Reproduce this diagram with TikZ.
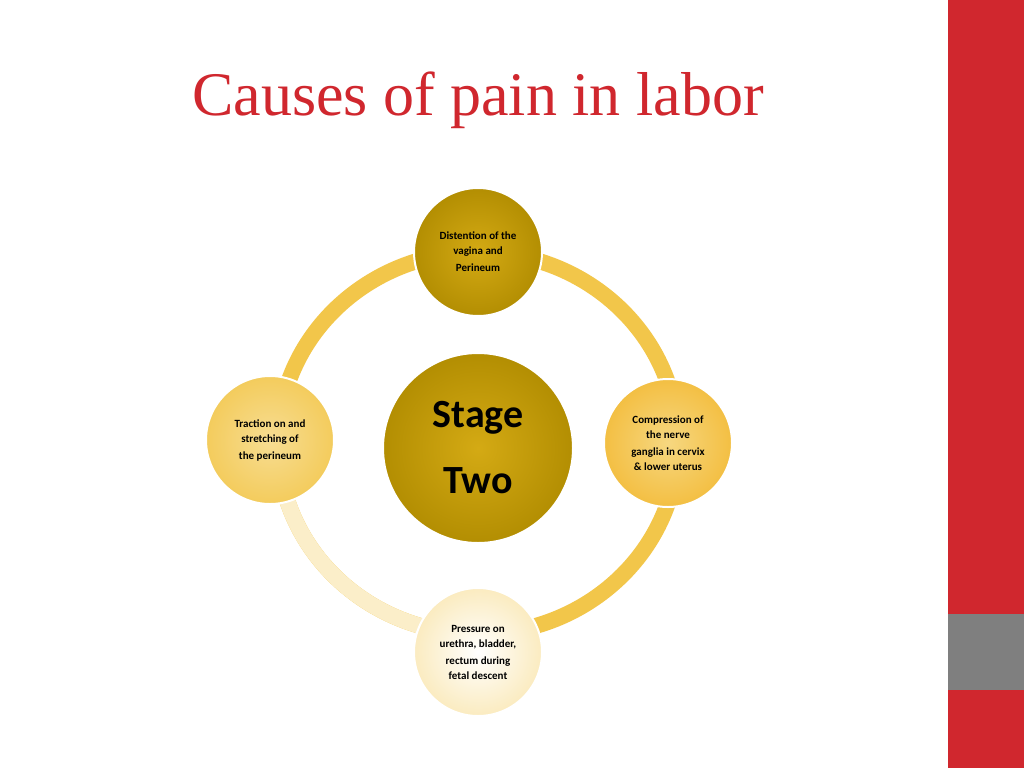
\documentclass[tikz,border=0pt]{standalone}
\usepackage{fontspec}
\setmainfont{Carlito}
\newfontfamily\titlefont{Liberation Serif}
\definecolor{redbar}{HTML}{D0272E}
\definecolor{greybar}{HTML}{7F7F7F}
\definecolor{ringc}{HTML}{F2C64A}
\definecolor{goldd}{HTML}{B38E02}
\definecolor{goldl}{HTML}{D4AA14}
\tikzset{
  small/.style={circle,minimum size=128pt,inner sep=0pt,draw=white,line width=2pt,align=center,font=\bfseries\fontsize{11}{15}\selectfont},
}
\begin{document}
\begin{tikzpicture}[x=1pt,y=-1pt]
\useasboundingbox (0,0) rectangle (1024,768);
\fill[white] (0,0) rectangle (1024,768);
\fill[redbar] (948,0) rectangle (1024,768);
\fill[greybar] (948,614) rectangle (1024,690);
\node[text=redbar,font=\titlefont\fontsize{62}{68}\selectfont] (title) at (478,100) {Causes of pain in labor};
\draw[line width=16pt,ringc] (478,443) ellipse [x radius=200,y radius=191];
\draw[line width=16pt,ringc!30!white] (278,443) arc[start angle=180,end angle=90,x radius=200,y radius=191];
\node[small,inner color=goldl,outer color=goldd] (top) at (478,252) {Distention of the\\vagina and\\[2pt]Perineum};
\node[small,inner color=ringc!70!white,outer color=ringc!90!orange] (right) at (668,443) {Compression of\\the nerve\\[2pt]ganglia in cervix\\\&{} lower uterus};
\node[small,inner color=ringc!60!white,outer color=ringc!90!white] (left) at (270,440) {Traction on and\\stretching of\\[2pt]the perineum};
\node[small,inner color=white,outer color=ringc!35!white] (bottom) at (478,652) {Pressure on\\urethra, bladder,\\[2pt]rectum during\\fetal descent};
\node[circle,minimum size=190pt,draw=white,line width=2pt,inner color=goldl,outer color=goldd,align=center,font=\bfseries\fontsize{40}{66}\selectfont] (center) at (478,448) {Stage\\Two};
\end{tikzpicture}
\end{document}
